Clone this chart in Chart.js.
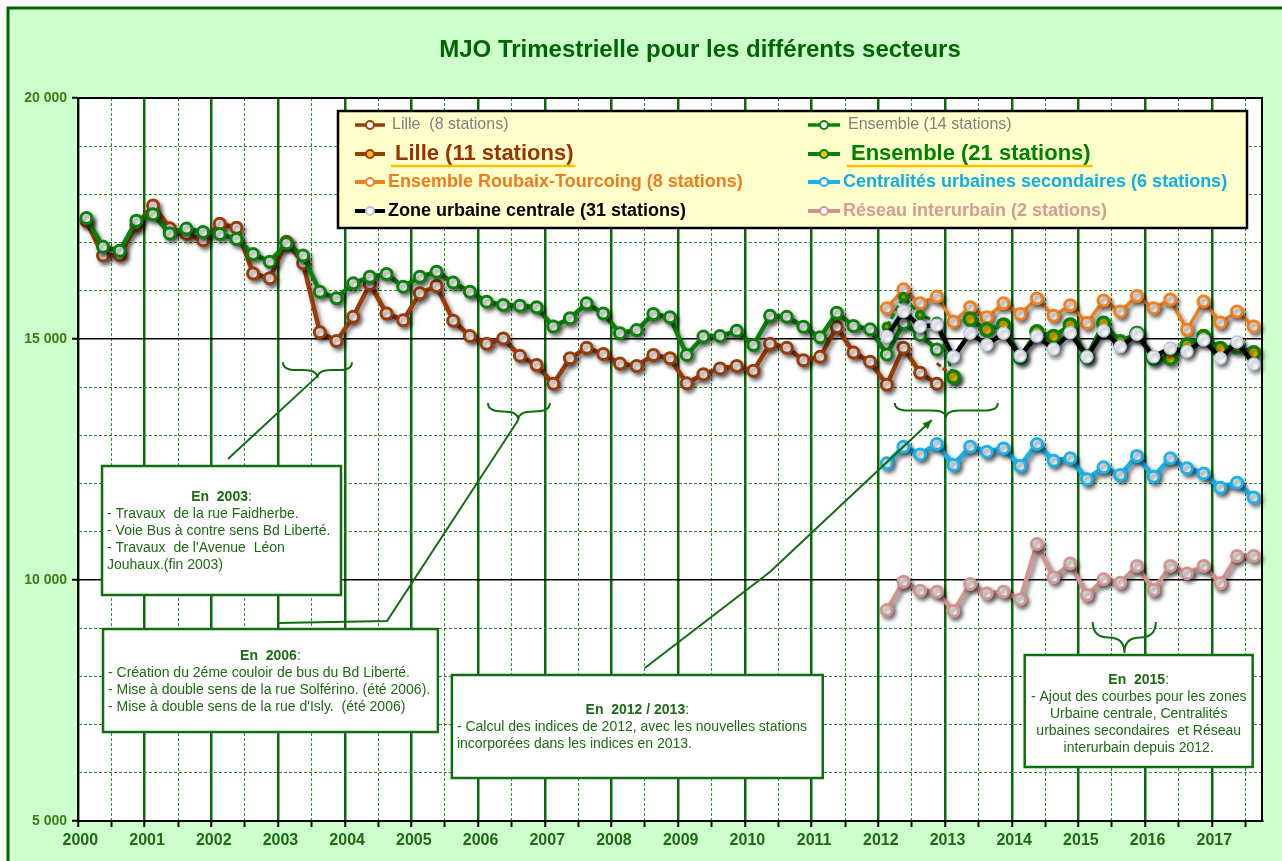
<!DOCTYPE html>
<html><head><meta charset="utf-8">
<script src="https://cdn.jsdelivr.net/npm/chart.js@4.4.1/dist/chart.umd.min.js"></script>
<style>html,body{margin:0;padding:0;background:#fff;overflow:hidden}#wrap{width:1282px;height:861px;position:relative}</style>
</head><body><div id="wrap"><canvas id="c" width="1282" height="861"></canvas></div>
<script>
// ---------- DATA ----------
const years = [2000,2001,2002,2003,2004,2005,2006,2007,2008,2009,2010,2011,2012,2013,2014,2015,2016,2017];
const quarterNames = ['T1','T2','T3','T4'];
const quarterCount = 71; // 2000 T1 .. 2017 T3
const yTickValues = [5000,10000,15000,20000];

const lille8 = [17450,16730,16740,17365,17770,17300,17180,17050,17390,17310,
  16360,16260,17020,16570,15140,14960,15460,16140,15530,15390,
  15950,16100,15380,15060,14900,15010,14650,14460,14070,14600,
  14820,14690,14490,14440,14670,14600,14080,14270,14390,14440,
  14340,14900,14820,14560,14630,15250,14720,14530,14050,14820,
  14300,14070];
const ensemble14 = [17510,16915,16830,17455,17590,17190,17290,17220,17180,17075,
  16765,16605,16985,16730,15980,15845,16155,16290,16350,16085,
  16290,16395,16170,15980,15775,15705,15690,15660,15260,15430,
  15740,15530,15120,15185,15520,15450,14670,15050,15060,15170,
  14875,15480,15460,15255,15035,15545,15270,15200,14680,15330,
  15085,14780];
const lille11Start = 51;
const lille11 = [14500,14210];
const start2012 = 48;
const ensemble21 = [15255,15870,15500,15360,14210,15410,15190,15290,14620,15150,15050,15290,14630,15325,14945,15115,14600,14600,14875,15050,14805,14840,14715];
const roubaixTourcoing = [15640,16030,15740,15880,15360,15660,15450,15740,15520,15840,15480,15700,15330,15800,15570,15890,15640,15820,15190,15780,15340,15570,15260];
const zoneCentrale = [15050,15570,15260,15290,14630,15120,14880,15120,14650,15060,14790,15130,14630,15170,14840,15100,14630,14810,14740,14980,14600,14940,14480];
const centralites = [12420,12765,12606,12820,12385,12765,12661,12730,12364,12820,12475,12524,12088,12337,12177,12572,12143,12524,12316,12212,11914,12018,11714];
const interurbain = [9376,9964,9778,9757,9355,9916,9722,9757,9598,10746,10054,10344,9688,10013,9943,10289,9791,10289,10137,10289,9930,10497,10497];

const quarterLabels = [];
years.forEach(y => quarterNames.forEach(q => quarterLabels.push(y + ' ' + q)));
quarterLabels.length = quarterCount;
const pad = (start, arr) => Array(start).fill(null).concat(arr);

// ---------- STYLE ----------
const FONT = '"Liberation Sans", Arial, Helvetica, sans-serif';
const TXT_GREEN = '#1d6a14';
const C_LILLE = '#9a3b08', C_ENS = '#0a820a', C_ORANGE = '#f07f1e', C_BLUE = '#1ab2ea', C_PINK = '#d39491', C_BLACK = '#000000';

function fmt(v){ return String(v).replace(/\B(?=(\d{3})+(?!\d))/g, ' '); }

const baseDs = (label, data, color, extra) => Object.assign({
  label, data, borderColor: color, borderWidth: 4.5, pointRadius: 5.5, pointHoverRadius: 5.5,
  pointBorderColor: color, pointBackgroundColor: '#ffffff', pointBorderWidth: 3,
  tension: 0, fill: false, spanGaps: false
}, extra || {});

const datasets = [
  baseDs('Lille  (8 stations)', lille8, C_LILLE, {order: 5,
    legend: {font: '16px ' + FONT, color: '#7f7f7f', tx: 392, lw: 3.5}}),
  baseDs('Ensemble (14 stations)', ensemble14, C_ENS, {order: 4,
    legend: {font: '16px ' + FONT, color: '#7f7f7f', tx: 848, lw: 3.5}}),
  baseDs('Lille (11 stations)', pad(lille11Start, lille11), C_LILLE, {order: 6, borderDash: [5,3], borderWidth: 3,
    pointBackgroundColor: '#ffc000', pointRadius: c => c.dataIndex === 52 ? 5 : 0,
    legend: {font: 'bold 22px ' + FONT, color: '#993300', tx: 395, underline: '#ffc000', lw: 4}}),
  baseDs('Ensemble (21 stations)', pad(start2012, ensemble21), C_ENS, {order: 1,
    pointBackgroundColor: '#ffc000', pointBorderWidth: 3.5,
    pointRadius: c => c.dataIndex < 52 ? 3.5 : 6,
    segment: {
      borderDash: c => c.p1DataIndex <= 52 ? [6,3] : undefined,
      borderColor: c => c.p0DataIndex === 52 ? 'rgba(0,0,0,0)' : undefined,
      borderWidth: c => c.p1DataIndex <= 52 ? 3 : undefined
    },
    legend: {font: 'bold 22px ' + FONT, color: '#008000', tx: 851, underline: '#ffc000', lw: 4}}),
  baseDs('Ensemble Roubaix-Tourcoing (8 stations)', pad(start2012, roubaixTourcoing), C_ORANGE, {order: 2, borderWidth: 3.5,
    legend: {font: 'bold 18px ' + FONT, color: '#f07b1e', tx: 388, lw: 4}}),
  baseDs('Centralités urbaines secondaires (6 stations)', pad(start2012, centralites), C_BLUE, {order: 7, borderWidth: 5,
    legend: {font: 'bold 18px ' + FONT, color: '#10aee8', tx: 843, lw: 4}}),
  baseDs('Zone urbaine centrale (31 stations)', pad(start2012, zoneCentrale), C_BLACK, {order: 0,
    pointBorderColor: '#b4c8e0', pointBackgroundColor: '#ffffff', pointBorderWidth: 1.5, pointRadius: 6,
    legend: {font: 'bold 18px ' + FONT, color: '#000000', tx: 388, lw: 4}}),
  baseDs('Réseau interurbain (2 stations)', pad(start2012, interurbain), C_PINK, {order: 8, borderWidth: 4.5,
    legend: {font: 'bold 18px ' + FONT, color: '#d79a97', tx: 843, lw: 4}})
];

// ---------- PLUGINS ----------
const bgPlugin = {
  id: 'bg',
  beforeDraw(chart){
    const {ctx, chartArea: a, width, height} = chart;
    ctx.save();
    ctx.fillStyle = '#ffffff'; ctx.fillRect(0,0,width,height);
    ctx.fillStyle = '#ccffcc'; ctx.fillRect(8,8,width-8,height-8);
    ctx.strokeStyle = '#006400'; ctx.lineWidth = 3;
    ctx.beginPath(); ctx.moveTo(8,height); ctx.lineTo(8,8); ctx.lineTo(width,8); ctx.stroke();
    ctx.fillStyle = '#ffffff'; ctx.fillRect(a.left,a.top,a.width,a.height);
    ctx.fillStyle = '#006400'; ctx.font = 'bold 24px ' + FONT;
    ctx.textAlign = 'center'; ctx.textBaseline = 'middle';
    ctx.fillText('MJO Trimestrielle pour les différents secteurs', 700, 50);
    ctx.restore();
  }
};

const shadowPlugin = {
  id: 'shadow',
  beforeDatasetDraw(chart){
    const ctx = chart.ctx; ctx.save();
    ctx.shadowColor = 'rgba(0,0,0,0.5)'; ctx.shadowBlur = 4; ctx.shadowOffsetX = 2.5; ctx.shadowOffsetY = 3;
  },
  afterDatasetDraw(chart){ chart.ctx.restore(); }
};

const overlayPlugin = {
  id: 'overlay',
  afterDraw(chart){
    const {ctx, chartArea: a} = chart;
    const X = u => chart.scales.x.getPixelForValue(u - 0.5);
    const Y = v => chart.scales.y.getPixelForValue(v);
    ctx.save();
    // plot frame top/right
    ctx.strokeStyle = '#000'; ctx.lineWidth = 2;
    ctx.beginPath(); ctx.moveTo(a.left, a.top); ctx.lineTo(a.right, a.top); ctx.lineTo(a.right, a.bottom); ctx.stroke();

    // ---- legend ----
    const lx = 338, ly = 111, lw = 909, lh = 117;
    ctx.fillStyle = '#ffffcc'; ctx.fillRect(lx, ly, lw, lh);
    ctx.lineWidth = 2.5; ctx.strokeStyle = '#000'; ctx.strokeRect(lx, ly, lw, lh);
    const rowsY = [125, 154, 182, 211];
    const colMarker = [[355,385],[808,840]];
    chart.data.datasets.forEach((ds, i) => {
      const row = Math.floor(i/2), col = i % 2, y = rowsY[row];
      const [m0, m1] = colMarker[col];
      const L = ds.legend;
      ctx.strokeStyle = ds.borderColor; ctx.lineWidth = L.lw; ctx.setLineDash([]);
      ctx.beginPath(); ctx.moveTo(m0, y); ctx.lineTo(m1, y); ctx.stroke();
      ctx.beginPath(); ctx.arc((m0+m1)/2, y, 4, 0, Math.PI*2);
      ctx.fillStyle = ds.pointBackgroundColor; ctx.fill();
      ctx.lineWidth = 2; ctx.strokeStyle = ds.pointBorderColor; ctx.stroke();
      ctx.font = L.font; ctx.fillStyle = L.color; ctx.textAlign = 'left'; ctx.textBaseline = 'middle';
      ctx.fillText(ds.label, L.tx, y);
      if (L.underline) {
        const w = ctx.measureText(ds.label).width;
        ctx.strokeStyle = L.underline; ctx.lineWidth = 2.5;
        ctx.beginPath(); ctx.moveTo(L.tx - 4, y + 12); ctx.lineTo(L.tx + w + 2, y + 12); ctx.stroke();
      }
    });

    // ---- annotation connectors ----
    ctx.strokeStyle = '#0f6e0f'; ctx.lineWidth = 2; ctx.setLineDash([]);
    const brace = (u0, u1, uc, vTop, vTip) => {
      const x0 = X(u0), x1 = X(u1), xc = X(uc), yt = Y(vTop), yb = Y(vTip), ym = (yt+yb)/2;
      const r = Math.min((yb-yt)*0.9, (xc-x0)/2);
      ctx.beginPath();
      ctx.moveTo(x0, yt); ctx.quadraticCurveTo(x0, ym, x0 + r, ym);
      ctx.lineTo(xc - r, ym); ctx.quadraticCurveTo(xc, ym, xc, yb);
      ctx.quadraticCurveTo(xc, ym, xc + r, ym);
      ctx.lineTo(x1 - r, ym); ctx.quadraticCurveTo(x1, ym, x1, yt);
      ctx.stroke();
    };
    const poly = (pts, arrow) => {
      ctx.beginPath();
      pts.forEach((p, k) => { const x = X(p[0]), y = Y(p[1]); k ? ctx.lineTo(x, y) : ctx.moveTo(x, y); });
      ctx.stroke();
      if (arrow) {
        const p1 = pts[pts.length-1], p0 = pts[pts.length-2];
        const x1 = X(p1[0]), y1 = Y(p1[1]), x0 = X(p0[0]), y0 = Y(p0[1]);
        const ang = Math.atan2(y1-y0, x1-x0), s = 10;
        ctx.beginPath(); ctx.moveTo(x1, y1);
        ctx.lineTo(x1 - s*Math.cos(ang-0.4), y1 - s*Math.sin(ang-0.4));
        ctx.lineTo(x1 - s*Math.cos(ang+0.4), y1 - s*Math.sin(ang+0.4));
        ctx.closePath(); ctx.fillStyle = '#0f6e0f'; ctx.fill();
      }
    };
    brace(12.29, 16.43, 14.36, 14520, 14190);
    brace(24.58, 28.30, 26.4, 13672, 13320);
    brace(48.98, 55.16, 52.05, 13672, 13360);
    brace(60.85, 64.63, 62.75, 9128, 8485);
    poly([[8.99, 12510], [14.36, 14230]]);
    poly([[11.99, 9107], [18.53, 9149], [26.4, 13320]]);
    poly([[33.99, 8174], [41.49, 10166], [51.2, 13319]], true);

    // ---- annotation boxes ----
    const FS = '14px ';
    const box = (u0, u1, vTop, vBot, firstY, title, lines, center) => {
      const x0 = X(u0), x1 = X(u1), y0 = Y(vTop), y1 = Y(vBot);
      ctx.fillStyle = '#ffffff'; ctx.fillRect(x0, y0, x1-x0, y1-y0);
      ctx.strokeStyle = '#0f6e0f'; ctx.lineWidth = 2.5; ctx.strokeRect(x0, y0, x1-x0, y1-y0);
      ctx.fillStyle = TXT_GREEN; ctx.textBaseline = 'middle';
      const cx = (x0+x1)/2;
      ctx.font = 'bold ' + FS + FONT;
      const tw = ctx.measureText(title).width;
      ctx.font = FS + FONT;
      const cw = ctx.measureText(':').width;
      ctx.textAlign = 'left';
      ctx.font = 'bold ' + FS + FONT;
      ctx.fillText(title, cx - (tw+cw)/2, y0 + firstY);
      ctx.font = FS + FONT;
      ctx.fillText(':', cx - (tw+cw)/2 + tw, y0 + firstY);
      ctx.textAlign = center ? 'center' : 'left';
      lines.forEach((t, k) => ctx.fillText(t, center ? cx : x0 + 5, y0 + firstY + 17*(k+1)));
    };
    box(1.44, 15.77, 12365, 9689, 31, 'En  2003', [
      '- Travaux  de la rue Faidherbe.',
      '- Voie Bus à contre sens Bd Liberté.',
      '- Travaux  de l\'Avenue  Léon',
      'Jouhaux.(fin 2003)']);
    box(1.5, 21.58, 8983, 6846, 27, 'En  2006', [
      '- Création du 2éme couloir de bus du Bd Liberté.',
      '- Mise à double sens de la rue Solférino. (été 2006).',
      '- Mise à double sens de la rue d\'Isly.  (été 2006)']);
    box(22.42, 44.66, 8029, 5892, 35, 'En  2012 / 2013', [
      '- Calcul des indices de 2012, avec les nouvelles stations',
      'incorporées dans les indices en 2013.']);
    box(56.77, 70.44, 8444, 6120, 25, 'En  2015', [
      '- Ajout des courbes pour les zones',
      'Urbaine centrale, Centralités',
      'urbaines secondaires  et Réseau',
      'interurbain depuis 2012.'], true);
    ctx.restore();
  }
};

// ---------- CHART ----------
new Chart(document.getElementById('c'), {
  type: 'line',
  data: { labels: quarterLabels, datasets },
  options: {
    responsive: false, animation: false, devicePixelRatio: 1,
    events: [],
    layout: { padding: { left: 0, top: 98, right: 20, bottom: 0 } },
    plugins: { legend: { display: false }, title: { display: false }, tooltip: { enabled: false } },
    scales: {
      x: {
        type: 'category', offset: true,
        afterFit: s => { s.height = 40; },
        grid: {
          offset: true, drawOnChartArea: true, drawTicks: true, tickLength: 6,
          color: c => (c.index % 4 === 0) ? '#0b6b0b' : (c.index % 2 === 0 ? '#2e8b2e' : 'rgba(0,0,0,0)'),
          lineWidth: c => (c.index % 4 === 0) ? 2.5 : 1,
          tickColor: c => (c.index % 2 === 0) ? '#000' : 'rgba(0,0,0,0)',
          tickWidth: 2
        },
        border: { display: true, color: '#000', width: 2,
          dash: c => (c && typeof c.index === 'number' && c.index % 4 !== 0) ? [3,2] : [] },
        ticks: {
          autoSkip: false, maxRotation: 0, minRotation: 0, labelOffset: -6, padding: 4,
          color: TXT_GREEN, font: { family: FONT, size: 16, weight: 'bold' },
          callback: (v, i) => i % 4 === 0 ? quarterLabels[i].slice(0,4) : ''
        }
      },
      y: {
        type: 'linear', min: yTickValues[0], max: yTickValues[yTickValues.length-1],
        afterFit: s => { s.width = 78; },
        grid: {
          drawTicks: true, tickLength: 6,
          color: c => (c.tick && yTickValues.includes(c.tick.value)) ? '#000' : '#2e8b2e',
          lineWidth: c => (c.tick && yTickValues.includes(c.tick.value)) ? 1.5 : 1,
          tickColor: c => (c.tick && yTickValues.includes(c.tick.value)) ? '#000' : 'rgba(0,0,0,0)',
          tickWidth: 2
        },
        border: { display: true, color: '#000', width: 2,
          dash: c => (c && c.tick && !yTickValues.includes(c.tick.value)) ? [3,2] : [] },
        ticks: {
          stepSize: 1000, padding: 5, color: '#3a7d14',
          font: { family: FONT, size: 14, weight: 'bold' },
          callback: v => yTickValues.includes(v) ? fmt(v) : ''
        }
      }
    }
  },
  plugins: [bgPlugin, shadowPlugin, overlayPlugin]
});
</script>
</body></html>
